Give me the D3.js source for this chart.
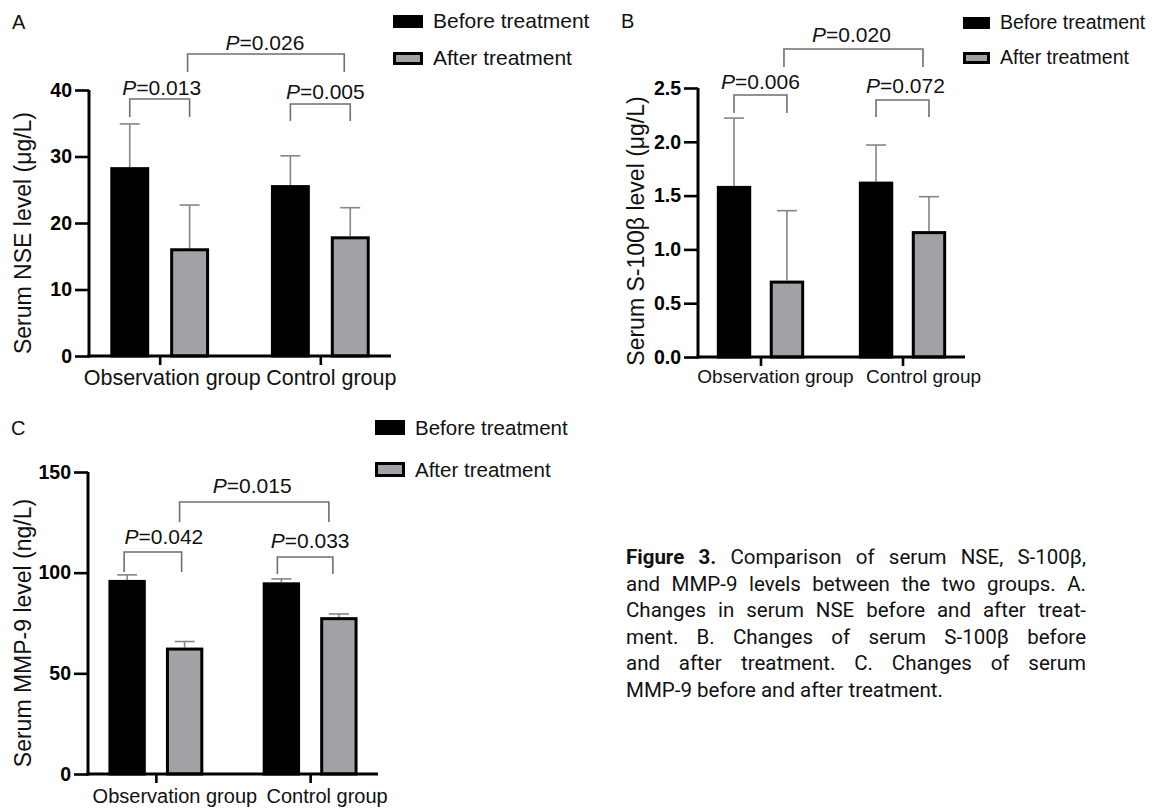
<!DOCTYPE html>
<html>
<head>
<meta charset="utf-8">
<script src="https://cdn.jsdelivr.net/npm/d3@7"></script>
<style>
  html, body { margin: 0; padding: 0; background: #fff; }
  svg { display: block; font-family: "Liberation Sans", Arial, Helvetica, sans-serif; }
</style>
</head>
<body>
<svg id="fig" width="1153" height="809"></svg>
<script>
// ---- data ----
const groups = ["Observation group", "Control group"];
const series = ["Before treatment", "After treatment"];

// Serum NSE (μg/L): mean and SD per group
const nseBefore   = [28.4, 25.7];
const nseBeforeSD = [6.5, 4.4];
const nseAfter    = [16.2, 18.0];
const nseAfterSD  = [6.5, 4.3];
const nseTicks    = [0, 10, 20, 30, 40];
const nseP        = ["0.013", "0.005", "0.026"]; // obs before/after, control before/after, after obs vs control

// Serum S-100β (μg/L)
const s100Before   = [1.59, 1.63];
const s100BeforeSD = [0.63, 0.34];
const s100After    = [0.71, 1.17];
const s100AfterSD  = [0.65, 0.32];
const s100Ticks    = [0, 0.5, 1.0, 1.5, 2.0, 2.5];
const s100P        = ["0.006", "0.072", "0.020"];

// Serum MMP-9 (ng/L)
const mmpBefore   = [96.4, 95.2];
const mmpBeforeSD = [2.5, 1.7];
const mmpAfter    = [62.8, 77.9];
const mmpAfterSD  = [3.0, 1.6];
const mmpTicks    = [0, 50, 100, 150];
const mmpP        = ["0.042", "0.033", "0.015"];

const captionLines = [
  [{t: "Figure 3.", b: true}, {t: "Comparison of serum NSE, S-100β,"}],
  [{t: "and MMP-9 levels between the two groups. A."}],
  [{t: "Changes in serum NSE before and after treat-"}],
  [{t: "ment. B. Changes of serum S-100β before"}],
  [{t: "and after treatment. C. Changes of serum"}],
  [{t: "MMP-9 before and after treatment."}]
];

// ---- styling ----
const BAR_FILL = {"Before treatment": "#000000", "After treatment": "#a2a2a6"};
const ERR_COLOR = "#858585";
const BRACKET_COLOR = "#6f6f6f";

const svg = d3.select("#fig");

function panel(cfg) {
  const g = svg.append("g");
  const rows = groups.map((grp, i) => ({
    group: grp,
    values: [
      {s: series[0], mean: cfg.before[i], sd: cfg.beforeSD[i]},
      {s: series[1], mean: cfg.after[i],  sd: cfg.afterSD[i]}
    ]
  }));

  const x = d3.scalePoint().domain(groups).range([cfg.x0, cfg.x1]).padding(0.44);
  const inner = x.step() * 0.615;
  const xs = d3.scaleBand().domain(series).range([-inner / 2, inner / 2]).paddingInner(0.35);
  const y = d3.scaleLinear().domain([cfg.ticks[0], cfg.ticks[cfg.ticks.length - 1]]).range([cfg.yb, cfg.yt]);
  const cx = (grp, s) => x(grp) + xs(s) + xs.bandwidth() / 2;

  // error bars (upper only)
  rows.forEach(r => r.values.forEach(v => {
    const c = cx(r.group, v.s);
    g.append("line").attr("x1", c).attr("x2", c)
      .attr("y1", y(v.mean)).attr("y2", y(v.mean + v.sd))
      .attr("stroke", ERR_COLOR).attr("stroke-width", 1.6);
    g.append("line").attr("x1", c - 10).attr("x2", c + 10)
      .attr("y1", y(v.mean + v.sd)).attr("y2", y(v.mean + v.sd))
      .attr("stroke", ERR_COLOR).attr("stroke-width", 1.6);
  }));

  // bars
  rows.forEach(r => {
    g.selectAll(null).data(r.values).enter().append("rect")
      .attr("x", d => x(r.group) + xs(d.s) + 1.5)
      .attr("width", xs.bandwidth() - 3)
      .attr("y", d => y(d.mean) + 1.5)
      .attr("height", d => y(0) - y(d.mean) - 1.5)
      .attr("fill", d => BAR_FILL[d.s])
      .attr("stroke", "#000").attr("stroke-width", 3);
  });

  // y axis
  const yAxis = d3.axisLeft(y).tickValues(cfg.ticks).tickSize(14).tickPadding(3)
    .tickFormat(cfg.fmt);
  const ya = g.append("g").attr("transform", `translate(${cfg.x0},0)`).call(yAxis);
  ya.select(".domain").attr("stroke", "#000").attr("stroke-width", 3)
    .attr("d", `M0,${cfg.yt}V${cfg.yb + 1.5}`);
  ya.selectAll(".tick line").attr("stroke", "#000").attr("stroke-width", 2.6);
  ya.selectAll(".tick text").attr("fill", "#000").attr("font-weight", 700)
    .attr("font-size", cfg.tickSize).attr("font-family", "Liberation Sans, Arial, sans-serif");

  // x axis
  const xAxis = d3.axisBottom(x).tickSize(9).tickFormat("");
  const xa = g.append("g").attr("transform", `translate(0,${cfg.yb})`).call(xAxis);
  xa.select(".domain").attr("stroke", "#000").attr("stroke-width", 3)
    .attr("d", `M${cfg.x0 - 1.5},0H${cfg.x1}`);
  xa.selectAll(".tick line").attr("stroke", "#000").attr("stroke-width", 2.6);

  g.selectAll(".xlab").data(groups).enter().append("text")
    .attr("x", (d, i) => x(d) + cfg.xlabDx[i]).attr("y", cfg.xlabY)
    .attr("text-anchor", "middle").attr("font-size", cfg.xlabSize).attr("fill", "#111")
    .text(d => d);

  // y label
  g.append("text")
    .attr("transform", `translate(${cfg.ylabX},${cfg.ylabY}) rotate(-90)`)
    .attr("text-anchor", "middle").attr("font-size", 23).attr("fill", "#111")
    .text(cfg.ylab);

  // significance brackets
  const brackets = [
    {x1: cx(groups[0], series[0]), x2: cx(groups[0], series[1]), p: cfg.p[0], ...cfg.br[0]},
    {x1: cx(groups[1], series[0]), x2: cx(groups[1], series[1]), p: cfg.p[1], ...cfg.br[1]},
    {x1: cx(groups[0], series[1]), x2: cx(groups[1], series[1]), p: cfg.p[2], ...cfg.br[2]}
  ];
  brackets.forEach(b => {
    const a = b.x1 + (b.s1 || 0), c = b.x2 + (b.s2 || 0);
    g.append("path")
      .attr("d", `M${a},${b.leg}V${b.top}H${c}V${b.leg}`)
      .attr("fill", "none").attr("stroke", BRACKET_COLOR).attr("stroke-width", 1.6);
    const t = g.append("text").attr("x", (a + c) / 2 + (b.dx || 0)).attr("y", b.ty)
      .attr("text-anchor", "middle").attr("font-size", 21).attr("fill", "#111");
    t.append("tspan").attr("font-style", "italic").text("P");
    t.append("tspan").text("=" + b.p);
  });

  // panel letter
  g.append("text").attr("x", cfg.letter[0]).attr("y", cfg.letter[1])
    .attr("font-size", 20).attr("fill", "#111").text(cfg.name);

  // legend
  series.forEach((s, i) => {
    const ly = cfg.leg[1] + i * cfg.legGap;
    g.append("rect").attr("x", cfg.leg[0] + 1.5).attr("y", ly + 1.5)
      .attr("width", cfg.legW - 3).attr("height", cfg.legH - 3)
      .attr("fill", BAR_FILL[s]).attr("stroke", "#000").attr("stroke-width", 3);
    g.append("text").attr("x", cfg.leg[0] + cfg.legW + 10).attr("y", ly + cfg.legH)
      .attr("font-size", cfg.legSize).attr("fill", "#111").text(s);
  });
}

panel({
  name: "A", letter: [12, 29],
  before: nseBefore, beforeSD: nseBeforeSD, after: nseAfter, afterSD: nseAfterSD,
  ticks: nseTicks, fmt: d3.format("d"), p: nseP, tickSize: 19.5,
  x0: 89, x1: 391, yb: 356, yt: 90,
  xlabY: 385, xlabDx: [12.5, 11], xlabSize: 21.5,
  ylab: "Serum NSE level (μg/L)", ylabX: 31, ylabY: 233,
  br: [{top: 99, leg: 117, ty: 95, dx: 2}, {top: 104, leg: 121, ty: 99, dx: 5},
       {top: 54, leg: 72, ty: 50, s1: -2, s2: -6, dx: -1}],
  leg: [393, 15], legW: 30, legH: 13, legGap: 37, legSize: 21
});

panel({
  name: "B", letter: [621, 28],
  before: s100Before, beforeSD: s100BeforeSD, after: s100After, afterSD: s100AfterSD,
  ticks: s100Ticks, fmt: d3.format(".1f"), p: s100P, tickSize: 19.5,
  x0: 698, x1: 965, yb: 357, yt: 88,
  xlabY: 383, xlabDx: [15, 21], xlabSize: 19,
  ylab: "Serum S-100β level (μg/L)", ylabX: 644, ylabY: 231,
  br: [{top: 95, leg: 113, ty: 89}, {top: 100, leg: 117, ty: 93, dx: 3},
       {top: 49, leg: 67, ty: 42, s1: -3, s2: -6, dx: -2}],
  leg: [963, 17], legW: 27, legH: 12, legGap: 35, legSize: 19.5
});

panel({
  name: "C", letter: [11, 435],
  before: mmpBefore, beforeSD: mmpBeforeSD, after: mmpAfter, afterSD: mmpAfterSD,
  ticks: mmpTicks, fmt: d3.format("d"), p: mmpP, tickSize: 19.5,
  x0: 88, x1: 378, yb: 774, yt: 472,
  xlabY: 803, xlabDx: [19, 17], xlabSize: 20,
  ylab: "Serum MMP-9 level (ng/L)", ylabX: 31, ylabY: 633,
  br: [{top: 552, leg: 572, ty: 544, s1: -3, s2: -3, dx: 11}, {top: 557, leg: 574, ty: 548, s1: -4, s2: -6, dx: 5},
       {top: 502, leg: 522, ty: 493, s1: -5, s2: -10, dx: -2}],
  leg: [375, 420], legW: 30, legH: 15, legGap: 42, legSize: 20.5
});

// ---- caption, justified ----
(function caption() {
  const x0 = 626, width = 460, y0 = 564, lh = 26.5, fs = 20.5;
  const cg = svg.append("g").attr("font-family", "Roboto, 'Noto Sans', sans-serif")
    .attr("font-size", fs).attr("fill", "#111");
  const probe = cg.append("text").text("a a");
  const probe2 = cg.append("text").text("aa");
  const spaceW = probe.node().getComputedTextLength() - probe2.node().getComputedTextLength();
  probe.remove(); probe2.remove();

  captionLines.forEach((line, li) => {
    const words = [];
    line.forEach(seg => seg.t.split(" ").forEach(w => words.push({t: w, b: !!seg.b})));
    const t = cg.append("text").attr("y", y0 + li * lh);
    const spans = words.map(w => t.append("tspan").attr("font-weight", w.b ? 700 : 400).text(w.t));
    const widths = spans.map(s => s.node().getComputedTextLength());
    const last = li === captionLines.length - 1;
    let gap = last ? spaceW : (width - d3.sum(widths)) / (words.length - 1);
    let sx = 1;
    if (gap < spaceW * 0.8) {
      // line too long for the column: condense it slightly
      gap = spaceW * 0.8;
      sx = width / (d3.sum(widths) + gap * (words.length - 1));
    }
    let xx = 0;
    spans.forEach((s, i) => { s.attr("x", xx); xx += widths[i] + gap; });
    t.attr("transform", `translate(${x0},0) scale(${sx},1)`);
  });
})();
</script>
</body>
</html>
